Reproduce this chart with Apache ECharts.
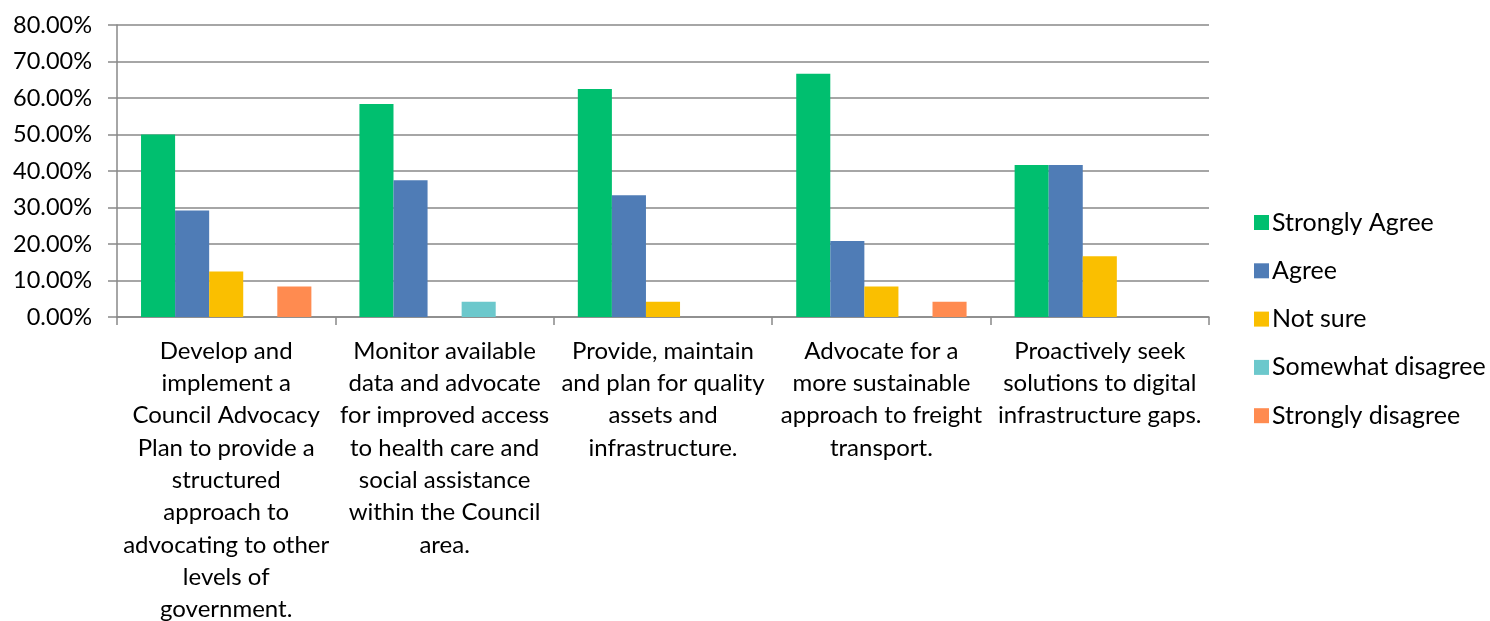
<!DOCTYPE html>
<html><head><meta charset="utf-8">
<script src="https://cdn.jsdelivr.net/npm/echarts@6/dist/echarts.min.js"></script>
<style>html,body{margin:0;padding:0;background:#fff;}#c{width:1490px;height:621px;}</style>
</head><body><div id="c"></div>
<script>
const categories = [
  "Develop and\nimplement a\nCouncil Advocacy\nPlan to provide a\nstructured\napproach to\nadvocating to other\nlevels of\ngovernment.",
  "Monitor available\ndata and advocate\nfor improved access\nto health care and\nsocial assistance\nwithin the Council\narea.",
  "Provide, maintain\nand plan for quality\nassets and\ninfrastructure.",
  "Advocate for a\nmore sustainable\napproach to freight\ntransport.",
  "Proactively seek\nsolutions to digital\ninfrastructure gaps."
];
const seriesNames = ["Strongly Agree","Agree","Not sure","Somewhat disagree","Strongly disagree"];
const stronglyAgree = [50.00, 58.33, 62.50, 66.67, 41.67];
const agree = [29.17, 37.50, 33.33, 20.83, 41.67];
const notSure = [12.50, 0, 4.17, 8.33, 16.67];
const somewhatDisagree = [0, 4.17, 0, 0, 0];
const stronglyDisagree = [8.33, 0, 0, 4.17, 0];
const colors = ["#00BF6F","#4F7CB6","#FABF00","#6CC8CC","#FF8B50"];

const font = "Lato, 'Open Sans', sans-serif";
const dataSets = [stronglyAgree, agree, notSure, somewhatDisagree, stronglyDisagree];
const chart = echarts.init(document.getElementById('c'), null, {renderer:'canvas'});
chart.setOption({
  animation:false,
  color: colors,
  grid:{left:117, right:281, top:25, bottom:304, containLabel:false, outerBoundsMode:'none'},
  legend:{
    orient:'vertical', left:1249, top:205, itemWidth:15, itemHeight:15, itemGap:23.3,
    icon:'rect',
    textStyle:{fontFamily:font, fontSize:25, lineHeight:24, color:'#000', padding:[0,0,0,-2]},
    data: seriesNames
  },
  xAxis:{
    type:'category', data:categories,
    axisLine:{lineStyle:{color:'#898989', width:1.5}},
    axisTick:{show:true, length:8, lineStyle:{color:'#898989', width:1.5}},
    axisLabel:{interval:0, margin:18, fontFamily:font, fontSize:24, color:'#000', lineHeight:32.3, align:'center'}
  },
  yAxis:{
    type:'value', min:0, max:80, interval:10,
    axisLine:{show:true, lineStyle:{color:'#898989', width:1.5}},
    axisTick:{show:true, length:9, lineStyle:{color:'#898989', width:1.5}},
    splitLine:{lineStyle:{color:'#898989', width:1.5}},
    axisLabel:{margin:25, fontFamily:font, fontSize:23.5, color:'#000', formatter:v=>v.toFixed(2)+'%'}
  },
  series: seriesNames.map((n,i)=>({
    name:n, type:'bar', data:dataSets[i], barGap:'0%', barCategoryGap:'22%',
    itemStyle:{color:colors[i]}
  }))
});
</script></body></html>
